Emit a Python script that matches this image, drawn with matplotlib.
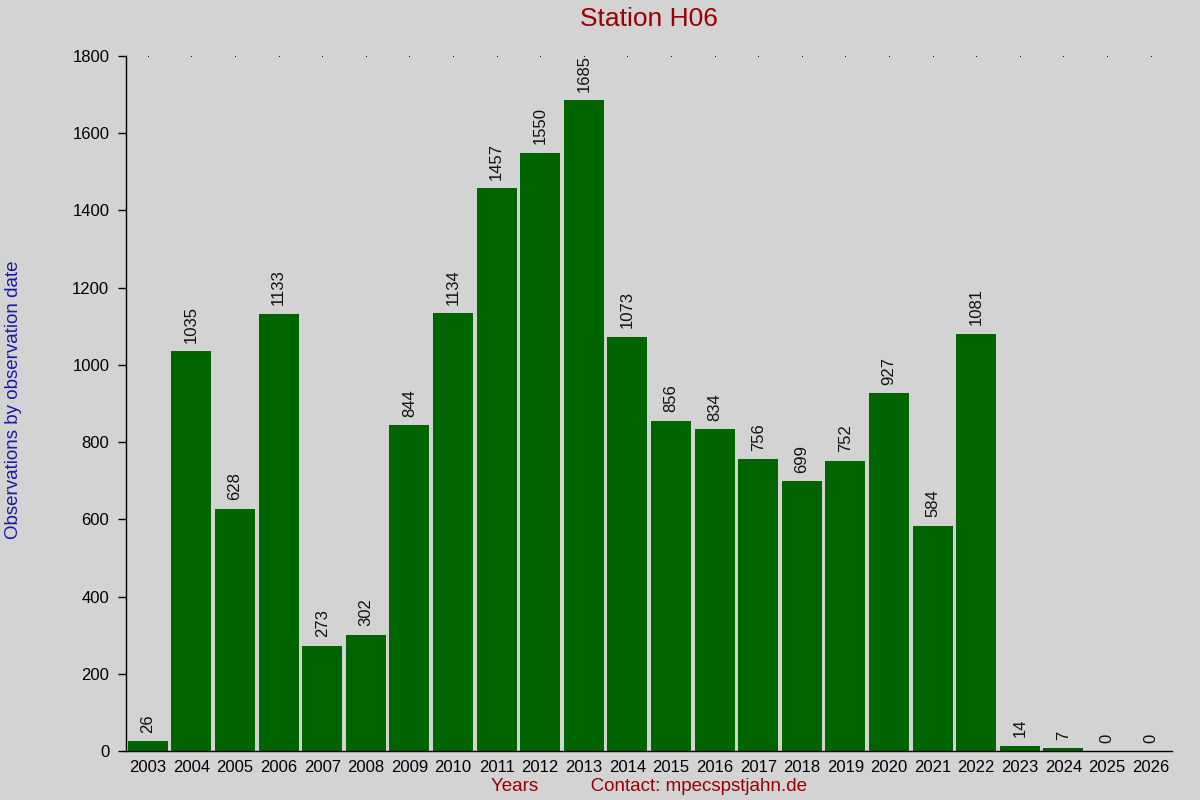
import matplotlib
matplotlib.use("Agg")
import matplotlib.pyplot as plt

years = list(range(2003, 2027))
values = [26, 1035, 628, 1133, 273, 302, 844, 1134, 1457, 1550, 1685, 1073,
          856, 834, 756, 699, 752, 927, 584, 1081, 14, 7, 0, 0]
yticks = [0, 200, 400, 600, 800, 1000, 1200, 1400, 1600, 1800]

plt.rcParams['font.family'] = ['Liberation Sans', 'DejaVu Sans']
bg = '#d3d3d3'
fig = plt.figure(figsize=(12, 8), dpi=100, facecolor=bg)
ax = fig.add_axes([0.105, 0.061, 0.872, 0.869], facecolor=bg)

ax.bar(years, values, width=0.92, color='#006400', zorder=2)
for x, v in zip(years, values):
    ax.annotate(str(v), (x, v), xytext=(0, 6), textcoords='offset points',
                rotation=90, ha='center', va='bottom', fontsize=12, color='#111111')

ax.set_xlim(2002.5, 2026.5)
ax.set_ylim(0, 1800)
ax.set_yticks(yticks)
ax.set_xticks(years)
ax.set_xticklabels([str(y) for y in years])
ax.tick_params(axis='y', direction='out', length=6, width=1, labelsize=12, pad=6)
ax.tick_params(axis='x', length=0, labelsize=12, pad=6)
for s in ['top', 'right']:
    ax.spines[s].set_visible(False)
ax.spines['left'].set_linewidth(1)
ax.spines['bottom'].set_linewidth(1)

# tiny top dots at tick positions
ax.plot(years, [1800] * len(years), linestyle='none', marker='s', markersize=0.6,
        markeredgewidth=0, color='black', clip_on=False, zorder=3)

fig.text(0.541, 0.976, 'Station H06', ha='center', va='center', fontsize=19, color='#990000')
fig.text(0.541, 0.017, 'Years          Contact: mpecspstjahn.de', ha='center', va='center',
         fontsize=13.5, color='#990000')
fig.text(0.011, 0.5, 'Observations by observation date', rotation=90, ha='center', va='center',
         fontsize=13.5, color='#1a1aa0')

fig.savefig('out.png', dpi=100, facecolor=bg)
